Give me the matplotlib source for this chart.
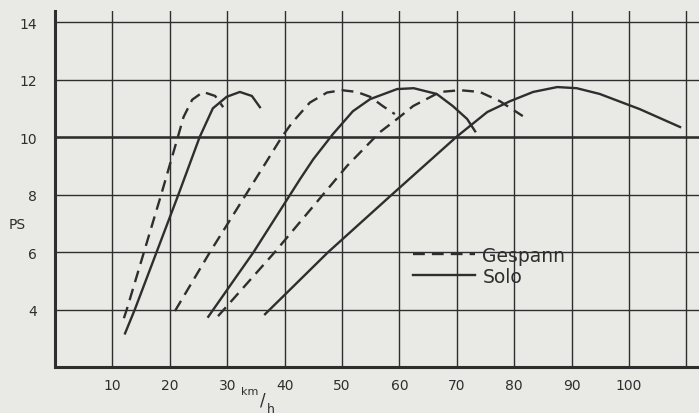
import matplotlib.pyplot as plt

# (km/h vs PS)
solo_1_x = [12.2, 13.9, 17.7, 21.5, 25.2, 27.5, 29.9, 32.2, 34.3, 35.7]
solo_1_y = [3.17, 4.0, 6.0, 8.0, 10.0, 11.0, 11.4, 11.57, 11.43, 11.04]
solo_2_x = [26.7, 34.6, 42.7, 45.0, 48.4, 51.9, 54.9, 59.6, 62.5, 66.5, 69.3, 71.8, 73.2]
solo_2_y = [3.75, 6.0, 8.54, 9.23, 10.1, 10.9, 11.32, 11.67, 11.7, 11.5, 11.08, 10.63, 10.2]
solo_3_x = [36.6, 47.6, 58.7, 69.9, 75.3, 79.3, 83.3, 87.5, 90.9, 94.9, 101.9, 108.9]
solo_3_y = [3.84, 6.0, 8.0, 10.0, 10.87, 11.25, 11.57, 11.74, 11.7, 11.5, 10.97, 10.35]

gesp_1_x = [12.0, 12.5, 15.5, 18.5, 21.4, 22.4, 23.9, 25.8, 27.9, 29.3]
gesp_1_y = [3.7, 4.0, 6.0, 8.0, 10.0, 10.7, 11.3, 11.57, 11.43, 11.04]
gesp_2_x = [20.9, 27.0, 36.7, 39.5, 41.3, 44.4, 47.4, 50.0, 52.6, 54.9, 57.1, 59.2]
gesp_2_y = [3.95, 6.0, 9.1, 10.0, 10.5, 11.2, 11.55, 11.63, 11.57, 11.4, 11.08, 10.8]
gesp_3_x = [28.4, 38.3, 50.9, 56.6, 59.6, 62.4, 67.1, 70.6, 74.0, 77.5, 81.5]
gesp_3_y = [3.77, 6.0, 9.0, 10.17, 10.63, 11.08, 11.57, 11.63, 11.57, 11.25, 10.73]

x_ticks = [10, 20, 30, 40, 50, 60, 70, 80, 90, 100, 110]
x_labels = ["10", "20", "30", "40", "50", "60", "70", "80", "90", "100", ""]
y_ticks = [4, 6, 8, 10, 12, 14]
y_labels = ["4", "6", "8", "10", "12", "14"]

paper = "#e9e9e6"
ink = "#2e2e2e"

fig = plt.figure(figsize=(6.99, 4.14), dpi=100, facecolor=paper)
ax = fig.add_axes([0.0787, 0.111, 0.9213, 0.861])
ax.set_facecolor(paper)
ax.set_xlim(0, 112.2)
ax.set_ylim(2, 14.4)

ax.set_xticks(x_ticks)
ax.set_xticklabels(x_labels)
ax.set_yticks(y_ticks)
ax.set_yticklabels(y_labels)
ax.tick_params(length=0, labelsize=10, colors=ink)
ax.tick_params(axis="x", pad=8)
ax.tick_params(axis="y", pad=13)
ax.grid(True, color=ink, lw=1.0)
ax.axhline(10, color=ink, lw=1.8)

for s in ["top", "right"]:
    ax.spines[s].set_visible(False)
for s in ["left", "bottom"]:
    ax.spines[s].set_linewidth(2.2)
    ax.spines[s].set_color(ink)

dash = (0, (5, 3))
ax.plot(gesp_1_x, gesp_1_y, color=ink, lw=1.7, ls=dash, label="Gespann")
ax.plot(gesp_2_x, gesp_2_y, color=ink, lw=1.7, ls=dash)
ax.plot(gesp_3_x, gesp_3_y, color=ink, lw=1.7, ls=dash)
ax.plot(solo_1_x, solo_1_y, color=ink, lw=1.7, label="Solo")
ax.plot(solo_2_x, solo_2_y, color=ink, lw=1.7)
ax.plot(solo_3_x, solo_3_y, color=ink, lw=1.7)

leg = ax.legend(loc="upper left", bbox_to_anchor=(0.556, 0.34), frameon=False,
                fontsize=13.5, handlelength=3.3, handletextpad=0.4,
                labelspacing=0.1, borderpad=0, borderaxespad=0)
for t in leg.get_texts():
    t.set_color(ink)

fig.text(0.025, 0.456, "PS", fontsize=10, color=ink, ha="center", va="center")
fig.text(0.357, 0.052, "km", fontsize=8, color=ink, ha="center", va="center")
fig.text(0.376, 0.033, "/", fontsize=12, color=ink, ha="center", va="center")
fig.text(0.388, 0.012, "h", fontsize=9, color=ink, ha="center", va="center")

fig.savefig("out.png", dpi=100, facecolor=paper)
